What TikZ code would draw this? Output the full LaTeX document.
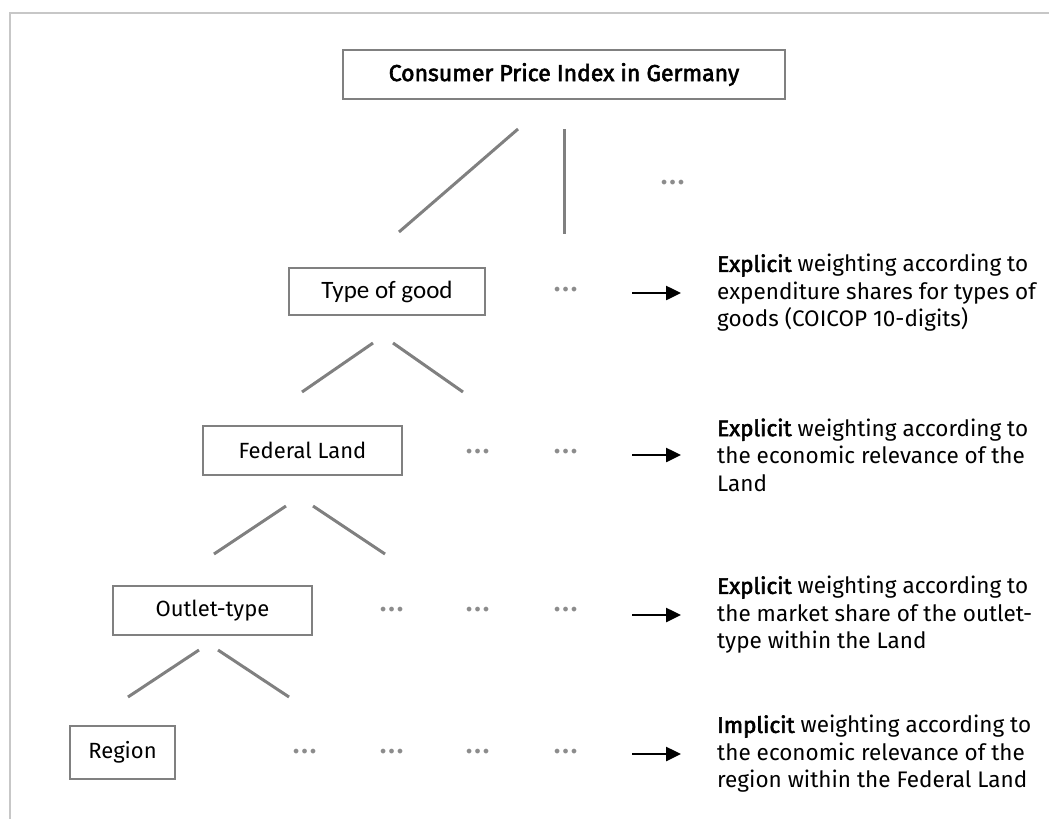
\documentclass[tikz,border=0pt]{standalone}
\usepackage{fontspec}
\setmainfont{Fira Sans}
\newfontfamily\calibri{Carlito}
\newfontfamily\semib[FakeBold=2.5]{Fira Sans}
\usetikzlibrary{arrows.meta}
\begin{document}
\begin{tikzpicture}[x=1pt,y=-1pt,
  frame/.style={draw=black!22, line width=2pt},
  box/.style={draw=black!50, line width=1.5pt, inner sep=0pt, font=\fontsize{22}{26}\selectfont},
  branch/.style={draw=black!50, line width=3pt},
  more/.style={text=black!45, font=\fontsize{34}{34}\selectfont, inner sep=0pt},
  arr/.style={draw=black, line width=2.5pt, -{Triangle[length=15pt,width=14pt]}},
  note/.style={anchor=west, align=left, inner sep=0pt, font=\fontsize{22.5}{27.5}\selectfont}
]
\useasboundingbox (0,0) rectangle (1049,819);
\draw[frame] (1049,13) -- (10,13) -- (10,819);

% boxes
\node[box, minimum width=442pt, minimum height=49pt, font=\fontsize{23}{26}\selectfont] (cpi) at (564,74.5) {\semib Consumer Price Index in Germany};
\node[box, minimum width=196pt, minimum height=47pt, font=\calibri\fontsize{25}{28}\selectfont] (type) at (387,291.5) {Type of good};
\node[box, minimum width=199pt, minimum height=49pt] (fed) at (302.5,450.5) {Federal Land};
\node[box, minimum width=199pt, minimum height=49pt] (outlet) at (212.5,610.5) {Outlet-type};
\node[box, minimum width=105pt, minimum height=53pt] (region) at (122.5,752.5) {Region};

% branch end points
\coordinate (c1a) at (518,129); \coordinate (c1b) at (399,232);
\coordinate (c2a) at (564,129); \coordinate (c2b) at (564,234);
\coordinate (t1a) at (373,343); \coordinate (t1b) at (302,392);
\coordinate (t2a) at (393,343); \coordinate (t2b) at (463,392);
\coordinate (f1a) at (286,506); \coordinate (f1b) at (214,554);
\coordinate (f2a) at (313,506); \coordinate (f2b) at (385,554);
\coordinate (o1a) at (199,650); \coordinate (o1b) at (128,697);
\coordinate (o2a) at (218,650); \coordinate (o2b) at (289,697);
\draw[branch] (c1a) -- (c1b);
\draw[branch] (c2a) -- (c2b);
\draw[branch] (t1a) -- (t1b);
\draw[branch] (t2a) -- (t2b);
\draw[branch] (f1a) -- (f1b);
\draw[branch] (f2a) -- (f2b);
\draw[branch] (o1a) -- (o1b);
\draw[branch] (o2a) -- (o2b);

% more
\node[more] (m0) at (673,183) {…};
\node[more] (m1) at (566,290) {…};
\node[more] (m2a) at (478,452) {…};
\node[more] (m2b) at (566,452) {…};
\node[more] (m3a) at (392,610) {…};
\node[more] (m3b) at (478,610) {…};
\node[more] (m3c) at (566,610) {…};
\node[more] (m4a) at (305,752) {…};
\node[more] (m4b) at (392,752) {…};
\node[more] (m4c) at (478,752) {…};
\node[more] (m4d) at (566,752) {…};

% notes
\node[note] (n1) at (717,293) {{\semib Explicit} weighting according to\\expenditure shares for types of\\goods (COICOP 10-digits)};
\node[note] (n2) at (717,455) {{\semib Explicit} weighting according to\\the economic relevance of the\\Land};
\node[note] (n3) at (717,615) {{\semib Explicit} weighting according to\\the market share of the outlet-\\type within the Land};
\node[note] (n4) at (717,754) {{\semib Implicit} weighting according to\\the economic relevance of the\\region within the Federal Land};

% arrows
\coordinate (a1) at (632,293); \coordinate (b1) at (681,293);
\coordinate (a2) at (632,455); \coordinate (b2) at (681,455);
\coordinate (a3) at (632,615); \coordinate (b3) at (681,615);
\coordinate (a4) at (632,754); \coordinate (b4) at (681,754);
\draw[arr] (a1) -- (b1);
\draw[arr] (a2) -- (b2);
\draw[arr] (a3) -- (b3);
\draw[arr] (a4) -- (b4);
\end{tikzpicture}
\end{document}
